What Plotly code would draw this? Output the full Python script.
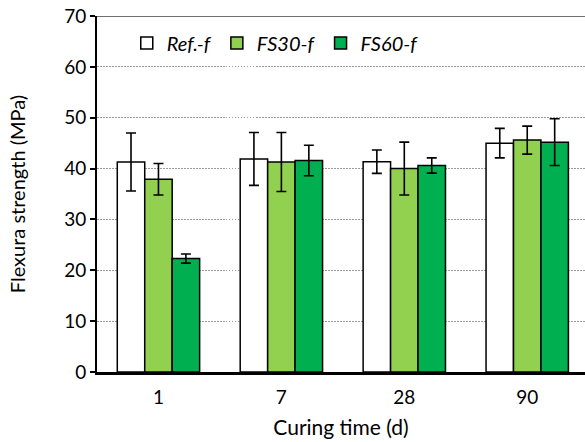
import plotly.graph_objects as go

categories = ["1", "7", "28", "90"]
series_names = ["Ref.-f", "FS30-f", "FS60-f"]
ref_vals = [41.3, 41.9, 41.35, 45.0]
ref_err = [5.7, 5.2, 2.3, 2.9]
fs30_vals = [37.9, 41.3, 40.0, 45.6]
fs30_err = [3.1, 5.8, 5.2, 2.75]
fs60_vals = [22.3, 41.6, 40.6, 45.2]
fs60_err = [0.9, 3.0, 1.5, 4.6]
y_ticks = [0, 10, 20, 30, 40, 50, 60, 70]

colors = ["#FFFFFF", "#92D050", "#00B050"]
values = [ref_vals, fs30_vals, fs60_vals]
errors = [ref_err, fs30_err, fs60_err]

FONT = "Lato, Carlito, 'Open Sans', sans-serif"

fig = go.Figure()
for name, vals, errs, col in zip(series_names, values, errors, colors):
    fig.add_trace(go.Bar(
        x=categories, y=vals, name=f"<i>{name}</i>",
        marker=dict(color=col, line=dict(color="black", width=1.5)),
        error_y=dict(type="data", array=errs, visible=True, color="black",
                     thickness=1.6, width=5),
    ))

fig.update_layout(
    width=585, height=442,
    margin=dict(l=97, r=0, t=16, b=70),
    paper_bgcolor="white", plot_bgcolor="white",
    barmode="group", bargap=0.33, bargroupgap=0,
    font=dict(family=FONT, size=19, color="black"),
    showlegend=True,
    legend=dict(orientation="h", x=0.061, y=0.924, xanchor="left", yanchor="middle",
                font=dict(size=20), bgcolor="rgba(0,0,0,0)", traceorder="normal"),
)
fig.update_xaxes(
    range=[-0.5, 3.47], showline=True, linecolor="black", linewidth=2.5,
    ticks="", showgrid=False, tickfont=dict(size=19), automargin=False,
    ticklabelstandoff=6,
    title=dict(text="Curing time (d)", font=dict(size=21), standoff=14),
)
fig.update_yaxes(
    range=[0, 70], tickvals=y_ticks, showline=True, linecolor="black", linewidth=2,
    ticks="outside", ticklen=5, tickwidth=1.5, tickcolor="black",
    showgrid=True, gridcolor="#9A9A9A", griddash="1.5px,1.5px", gridwidth=1.2,
    zeroline=False, tickfont=dict(size=19), automargin=False,
    title=dict(text="Flexura strength (MPa)", font=dict(size=20), standoff=33),
)
# top border line at y=70
fig.add_shape(type="line", xref="paper", yref="y", x0=0, x1=1, y0=70, y1=70,
              line=dict(color="#404040", width=1.5))

# remove the default 8px page margin so the figure fills the window exactly
fig.write_html("out.html", config={"displayModeBar": False},
               post_script="document.body.style.margin='0';")
